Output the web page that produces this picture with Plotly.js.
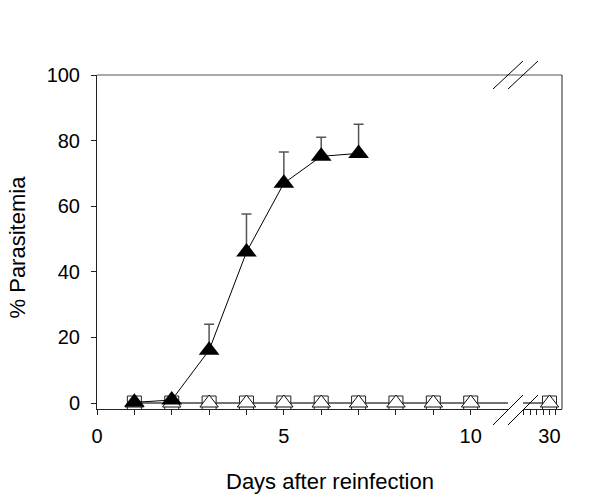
<!DOCTYPE html>
<html>
<head>
<meta charset="utf-8">
<script src="https://cdn.plot.ly/plotly-3.0.1.min.js"></script>
<style>html,body{margin:0;padding:0;background:#fff}#chart{width:600px;height:500px}</style>
</head>
<body>
<div id="chart"></div>
<script>
// ---- data ----
const controlDays = [1, 2, 3, 4, 5, 6, 7, 8, 9, 10, 30];
const controlSquarePct = [0, 0, 0, 0, 0, 0, 0, 0, 0, 0, 0];
const controlTrianglePct = [0, 0, 0, 0, 0, 0, 0, 0, 0, 0, 0];
const reinfectDays = [1, 2, 3, 4, 5, 6, 7];
const reinfectPct = [0.2, 0.9, 16.1, 46.0, 67.0, 75.2, 76.1];
const reinfectErr = [0, 0, 7.9, 11.6, 9.5, 5.8, 8.9];
const xTickValsLeft = [0, 1, 2, 3, 4, 5, 6, 7, 8, 9, 10];
const xTickTextLeft = ['0', '', '', '', '', '5', '', '', '', '', '10'];
const xTickValsRight = [26, 27, 28, 29, 30, 31];
const xTickTextRight = ['', '', '', '', '30', ''];
const yTickVals = [0, 20, 40, 60, 80, 100];
const xTitle = 'Days after reinfection';
const yTitle = '% Parasitemia';

const FONT = '"Liberation Sans", Arial, Helvetica, sans-serif';
const lineCol = '#444';

function controlTraces(xa) {
  return [
    {x: controlDays, y: controlSquarePct, xaxis: xa, yaxis: 'y', type: 'scatter', mode: 'lines+markers',
     line: {color: lineCol, width: 1},
     marker: {symbol: 'square', size: 14, color: 'white', line: {color: '#222', width: 1}},
     showlegend: false, hoverinfo: 'skip'},
    {x: controlDays, y: controlTrianglePct, xaxis: xa, yaxis: 'y', type: 'scatter', mode: 'lines+markers',
     line: {color: lineCol, width: 1},
     marker: {symbol: 'triangle-up', size: 16, color: 'white', line: {color: '#111', width: 1}},
     showlegend: false, hoverinfo: 'skip'}
  ];
}

const traces = [
  ...controlTraces('x'),
  ...controlTraces('x2'),
  {x: reinfectDays, y: reinfectPct, xaxis: 'x', yaxis: 'y', type: 'scatter', mode: 'lines+markers',
   line: {color: '#000', width: 1},
   marker: {symbol: 'triangle-up', size: 18, color: '#000'},
   error_y: {type: 'data', symmetric: false, array: reinfectErr, arrayminus: reinfectErr.map(() => 0),
             color: '#555', thickness: 1.5, width: 5},
   showlegend: false, hoverinfo: 'skip'}
];

const tickFont = {family: FONT, size: 20, color: '#000'};
const titleFont = {family: FONT, size: 22, color: '#000'};
const slash = (x0, y0, x1, y1) => ({type: 'line', xref: 'paper', yref: 'paper', x0, y0, x1, y1,
  line: {color: '#000', width: 1}});

const layout = {
  width: 600, height: 500,
  margin: {l: 97, r: 38, t: 75, b: 91},
  paper_bgcolor: '#fff', plot_bgcolor: '#fff',
  font: {family: FONT, color: '#000'},
  showlegend: false,
  xaxis: {domain: [0, 0.884], anchor: 'y', range: [0, 11], showgrid: false, zeroline: false,
          showline: true, linecolor: '#222', linewidth: 1,
          ticks: 'outside', ticklen: 5, tickcolor: '#222', tickvals: xTickValsLeft, ticktext: xTickTextLeft,
          tickfont: tickFont, ticklabelstandoff: 4},
  xaxis2: {domain: [0.916, 1], anchor: 'y', range: [25.86, 31.95], showgrid: false, zeroline: false,
           showline: true, linecolor: '#222', linewidth: 1,
           ticks: 'outside', ticklen: 5, tickcolor: '#222', tickvals: xTickValsRight, ticktext: xTickTextRight,
           tickfont: tickFont, ticklabelstandoff: 4},
  yaxis: {domain: [0, 1], anchor: 'x', range: [-1.83, 100], showgrid: false, zeroline: false,
          showline: true, linecolor: '#222', linewidth: 1,
          ticks: 'outside', ticklen: 5, tickcolor: '#222', tickvals: yTickVals,
          tickfont: tickFont, ticklabelstandoff: 7},
  annotations: [
    {text: xTitle, xref: 'paper', yref: 'paper', x: 0.5, y: -0.217, xanchor: 'center', yanchor: 'middle',
     showarrow: false, font: titleFont},
    {text: yTitle, xref: 'paper', yref: 'paper', x: -0.170, y: 0.4865, xanchor: 'center', yanchor: 'middle',
     textangle: -90, showarrow: false, font: titleFont}
  ],
  shapes: [
    {type: 'line', xref: 'paper', yref: 'paper', x0: 0, x1: 1, y0: 1, y1: 1, line: {color: '#555', width: 1}},
    {type: 'line', xref: 'paper', yref: 'paper', x0: 1, x1: 1, y0: 0, y1: 1, line: {color: '#222', width: 1}},
    slash(0.8516, -0.0479, 0.9161, 0.0419),
    slash(0.8839, -0.0479, 0.9484, 0.0419),
    slash(0.8516, 0.958, 0.9161, 1.0419),
    slash(0.8839, 0.958, 0.9484, 1.0419)
  ]
};

Plotly.newPlot('chart', traces, layout, {staticPlot: true, displayModeBar: false});
</script>
</body>
</html>
